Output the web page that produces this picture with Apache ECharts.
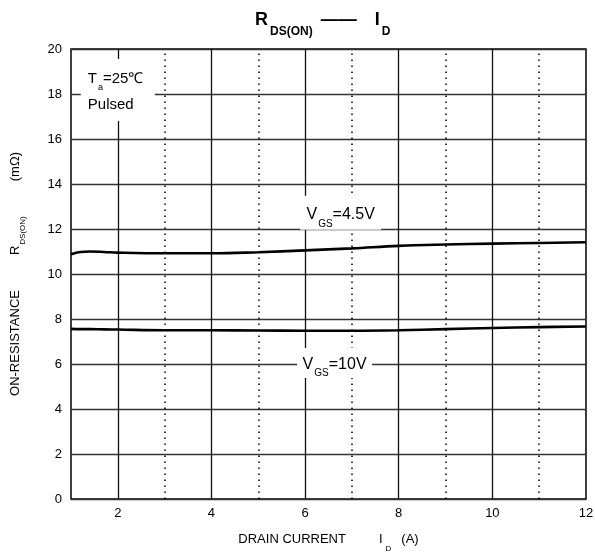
<!DOCTYPE html>
<html><head><meta charset="utf-8">
<script src="https://cdn.jsdelivr.net/npm/echarts@6/dist/echarts.min.js"></script>
<style>html,body{margin:0;padding:0;background:#fff}#c{width:595px;height:552px}</style>
</head><body><div id="c"></div>
<script>
// ---- data ----
const xTickLabels = [2, 4, 6, 8, 10, 12];
const xSolidLines = [2, 4, 6, 8, 10];
const xDottedLines = [3, 5, 7, 9, 11];
const yTicks = [0, 2, 4, 6, 8, 10, 12, 14, 16, 18, 20];
const currentA = [1, 1.2, 1.4, 1.7, 2, 3, 4, 5, 6, 7, 8, 9, 10, 11, 12];
const rdsVgs45 = [10.88, 10.98, 11.0, 10.98, 10.95, 10.92, 10.92, 10.97, 11.05, 11.14, 11.25, 11.31, 11.35, 11.38, 11.41];
const rdsVgs10 = [7.56, 7.55, 7.55, 7.54, 7.53, 7.5, 7.5, 7.49, 7.48, 7.48, 7.5, 7.55, 7.6, 7.64, 7.67];

const F = '"Liberation Sans", Arial, Helvetica, sans-serif';
const chart = echarts.init(document.getElementById('c'), null, {renderer: 'canvas'});

const pair = (xs, ys) => xs.map((x, i) => [x, ys[i]]);

const vLines = xSolidLines.map(v => ({xAxis: v, lineStyle: {color: '#111', width: 1.3, type: 'solid'}}))
  .concat(xDottedLines.map(v => ({xAxis: v, lineStyle: {color: '#000', width: 1.5, type: [1.5, 4.5]}})));

const curveStyle = {color: '#000', width: 2.6};

const option = {
  animation: false,
  backgroundColor: '#fff',
  textStyle: {fontFamily: F, color: '#000'},
  title: {
    text: '{b|R}{s|DS(ON)}{d|——}{b2|I}{s|D}',
    left: 255, top: 10, padding: 0,
    textStyle: {
      fontFamily: F,
      rich: {
        b: {fontFamily: F, fontSize: 18, fontWeight: 'bold', color: '#000', lineHeight: 20},
        s: {fontFamily: F, fontSize: 12, fontWeight: 'bold', color: '#000', lineHeight: 12, padding: [24, 0, 0, 2]},
        d: {fontFamily: F, fontSize: 18, fontWeight: 'bold', color: '#000', lineHeight: 20, padding: [0, 0, 0, 8]},
        b2: {fontFamily: F, fontSize: 18, fontWeight: 'bold', color: '#000', lineHeight: 20, padding: [0, 0, 0, 18]}
      }
    }
  },
  grid: {left: 71, right: 9, top: 49, bottom: 53, show: true, borderColor: '#000', borderWidth: 1.5,
    backgroundColor: 'transparent', containLabel: false, outerBoundsMode: 'none'},
  xAxis: {
    type: 'value', min: 1, max: 12, interval: 1,
    axisLine: {show: false}, axisTick: {show: false}, splitLine: {show: false},
    axisLabel: {
      formatter: v => xTickLabels.includes(v) ? String(v) : '',
      fontFamily: F, fontSize: 13, color: '#000', margin: 8
    },
    name: '{n|DRAIN CURRENT}{i|I}{s|D}{a|(A)}',
    nameLocation: 'middle', nameGap: 32,
    nameTextStyle: {
      rich: {
        n: {fontFamily: F, fontSize: 13, color: '#000', lineHeight: 16},
        i: {fontFamily: F, fontSize: 13, color: '#000', lineHeight: 16, padding: [0, 0, 0, 33]},
        s: {fontFamily: F, fontSize: 8, color: '#000', lineHeight: 8, padding: [20, 0, 0, 3]},
        a: {fontFamily: F, fontSize: 13, color: '#000', lineHeight: 16, padding: [0, 0, 0, 10]}
      }
    }
  },
  yAxis: {
    type: 'value', min: 0, max: 20, interval: 2,
    axisLine: {show: false}, axisTick: {show: false},
    splitLine: {show: true, lineStyle: {color: '#333', width: 1.4}},
    axisLabel: {fontFamily: F, fontSize: 13, color: '#000', margin: 9,
      formatter: v => yTicks.includes(v) ? String(v) : ''},
    name: '{n|ON-RESISTANCE}{r|R}{s|DS(ON)}{m|(mΩ)}',
    nameLocation: 'middle', nameRotate: 90, nameGap: 48,
    nameTextStyle: {
      rich: {
        n: {fontFamily: F, fontSize: 13, color: '#000', lineHeight: 16},
        r: {fontFamily: F, fontSize: 13, color: '#000', lineHeight: 16, padding: [0, 0, 0, 35]},
        s: {fontFamily: F, fontSize: 8, color: '#000', lineHeight: 8, padding: [16, 0, 0, 1]},
        m: {fontFamily: F, fontSize: 13, color: '#000', lineHeight: 16, padding: [0, 0, 0, 35]}
      }
    }
  },
  series: [
    {
      type: 'line', data: [], silent: true, z: 1,
      markLine: {silent: true, symbol: ['none', 'none'], label: {show: false}, z: 1, animation: false, data: vLines},
      markPoint: {
        silent: true, z: 4, animation: false,
        data: [{
          coord: [2.0, 18.18], symbol: 'rect', symbolSize: [74, 62],
          itemStyle: {color: '#fff'},
          label: {
            show: true, position: 'inside', align: 'left', offset: [-30, 2],
            formatter: '{t|T}{u|a}{t|=25℃}\n{t|Pulsed}',
            rich: {
              t: {fontFamily: F, fontSize: 15, color: '#000', lineHeight: 26},
              u: {fontFamily: F, fontSize: 9, color: '#000', lineHeight: 8, padding: [17, 0, 0, 1]}
            }
          }
        }]
      }
    },
    {
      name: 'VGS=4.5V', type: 'line', smooth: 0.4, symbol: 'none', z: 3,
      data: pair(currentA, rdsVgs45), lineStyle: curveStyle,
      markPoint: {
        silent: true, z: 4, animation: false,
        data: [{
          coord: [6.76, 12.72], symbol: 'rect', symbolSize: [81, 34],
          itemStyle: {color: '#fff'},
          label: {
            show: true, position: 'inside', offset: [0, 2],
            formatter: '{v|V}{s|GS}{v|=4.5V}',
            rich: {
              v: {fontFamily: F, fontSize: 16, color: '#000', lineHeight: 18},
              s: {fontFamily: F, fontSize: 10, color: '#000', lineHeight: 10, padding: [19, 0, 0, 1]}
            }
          }
        }]
      }
    },
    {
      name: 'VGS=10V', type: 'line', smooth: 0.4, symbol: 'none', z: 3,
      data: pair(currentA, rdsVgs10), lineStyle: curveStyle,
      markPoint: {
        silent: true, z: 4, animation: false,
        data: [{
          coord: [6.63, 6.04], symbol: 'rect', symbolSize: [75, 30],
          itemStyle: {color: '#fff'},
          label: {
            show: true, position: 'inside', offset: [0, 1],
            formatter: '{v|V}{s|GS}{v|=10V}',
            rich: {
              v: {fontFamily: F, fontSize: 16, color: '#000', lineHeight: 18},
              s: {fontFamily: F, fontSize: 10, color: '#000', lineHeight: 10, padding: [19, 0, 0, 1]}
            }
          }
        }]
      }
    }
  ]
};
chart.setOption(option);
</script>
</body></html>
